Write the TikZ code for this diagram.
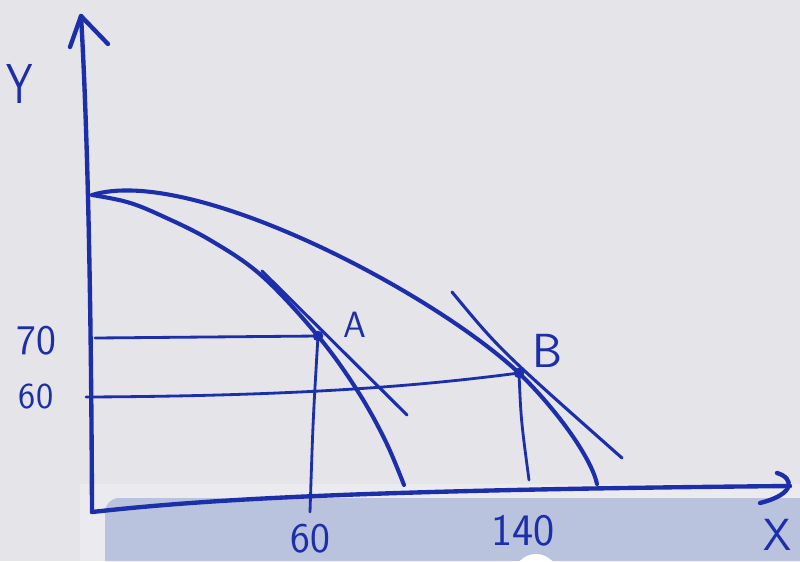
\documentclass[tikz,border=0pt]{standalone}
\usepackage{tikz}
\usetikzlibrary{arrows.meta}
\definecolor{penblue}{RGB}{28,46,170}
\definecolor{paper}{RGB}{228,228,233}
\definecolor{paperlight}{RGB}{235,235,239}
\definecolor{band}{RGB}{186,195,222}

\begin{document}
\begin{tikzpicture}[x=0.025cm, y=-0.025cm, line cap=round, line join=round,
    every node/.style={text=penblue, font=\sffamily},
    axis/.style={draw=penblue, line width=3.1pt},
    ppf/.style={draw=penblue, line width=2.9pt},
    guide/.style={draw=penblue, line width=2pt},
    tangent/.style={draw=penblue, line width=2.2pt},
    dot/.style={circle, fill=penblue, inner sep=0pt, minimum size=7.5pt}]
  \useasboundingbox (0,0) rectangle (800,561);
  % paper and the screen band below
  \fill[paper] (0,0) rectangle (800,561);
  \fill[paperlight] (80,484) rectangle (800,561);
  \fill[band] (800,561) -- (105,561) [rounded corners=10pt] -- (105,498) [sharp corners] -- (800,498) -- cycle;
  \fill[white] (536,576) circle (22);
  % axes
  \coordinate (O) at (92,512);
  \coordinate (ytip) at (81,16);
  \coordinate (xtip) at (790,486);
  \draw[axis] (O) .. controls (91,250) and (86,100) .. (ytip);
  \draw[axis] (70,47) -- (ytip) -- (108,44);
  \draw[axis] (O) .. controls (200,500) and (350,490) .. (xtip);
  \draw[axis] (777,473) .. controls (794,478) and (796,494) .. (760,503);
  % points A and B
  \node[dot] (A) at (318,336) {};
  \node[dot] (B) at (519,373) {};
  % the two frontiers
  \coordinate (top) at (92,195);
  \draw[ppf] plot[smooth, tension=0.6] coordinates {(92,195) (127,202) (160,215) (210,240) (262,276) (318,336) (357,390) (385,440) (404,485)};
  \draw[ppf] (top) .. controls (190,165) and (430,290) .. (B.center)
    .. controls (560,413) and (592,460) .. (597,484);
  % tangents
  \coordinate (tA1) at (262,271);
  \coordinate (tA2) at (407,415);
  \coordinate (tB1) at (452,292);
  \coordinate (tB2) at (622,458);
  \draw[tangent] (tA1) -- (tA2);
  \draw[tangent] (tB1) .. controls (500,350) .. (tB2);
  % guide lines to the axes
  \coordinate (y70) at (95,338);
  \coordinate (y60) at (86,397);
  \coordinate (x60) at (310,512);
  \coordinate (x140) at (529,480);
  \draw[guide] (y70) -- (A.center);
  \draw[guide] (y60) .. controls (300,396) and (420,386) .. (B.center);
  \draw[guide] (A.center) .. controls (313,420) .. (x60);
  \draw[guide] (B.center) .. controls (521,420) .. (x140);
  % labels
  \node[xscale=0.75] (ylab) at (20,84) {\fontsize{40}{40}\selectfont Y};
  \node[anchor=east, inner sep=0pt] (xlab) at (792,535) {\fontsize{32}{32}\selectfont X};
  \node (l70) at (36,341) {\fontsize{30}{30}\selectfont 70};
  \node (l60y) at (36,396) {\fontsize{26}{26}\selectfont 60};
  \node (l60x) at (310,539) {\fontsize{30}{30}\selectfont 60};
  \node (l140) at (523,531) {\fontsize{32}{32}\selectfont 140};
  \node (lA) at (355,325) {\fontsize{26}{26}\selectfont A};
  \node (lB) at (547,351) {\fontsize{34}{34}\selectfont B};
\end{tikzpicture}
\end{document}
